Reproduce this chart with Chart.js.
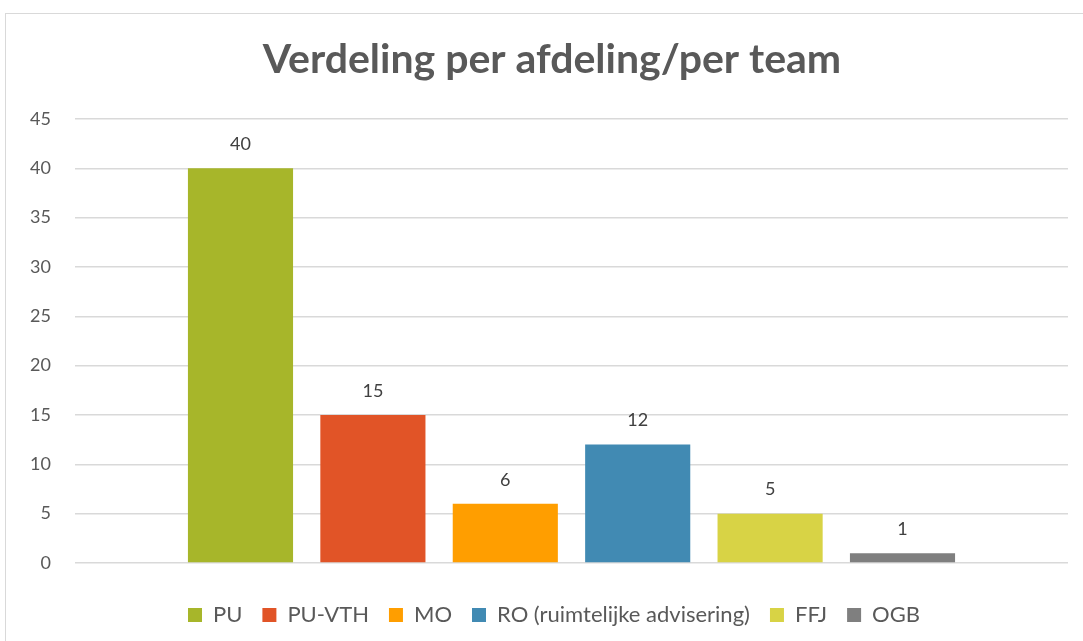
<!DOCTYPE html>
<html lang="nl">
<head>
    <meta charset="UTF-8">
    <title>Verdeling per afdeling/per team</title>
    <script src="https://cdn.jsdelivr.net/npm/chart.js"></script>
    <style>
        html, body { margin: 0; padding: 0; background: #fff; overflow: hidden; }
        .wrap { position: relative; width: 1083px; height: 641px; }
        .frame { position: absolute; left: 5px; top: 13px; width: 1200px; height: 800px; border: 1px solid #d9d9d9; box-sizing: border-box; pointer-events: none; }
        canvas { position: absolute; left: 0; top: 0; }
    </style>
</head>
<body>
    <div class="wrap">
        <canvas id="chart" width="1083" height="641"></canvas>
        <div class="frame"></div>
    </div>

    <script>
        // gegevens
        const titel = 'Verdeling per afdeling/per team';
        const afdelingen = ['PU', 'PU-VTH', 'MO', 'RO (ruimtelijke advisering)', 'FFJ', 'OGB'];
        const aantallen = [40, 15, 6, 12, 5, 1];
        const kleuren = ['#A7B62A', '#E15427', '#FF9E00', '#418AB3', '#D8D345', '#7F7F7F'];
        const yTicks = [0, 5, 10, 15, 20, 25, 30, 35, 40, 45];

        const fontFam = 'Lato, "Open Sans", sans-serif';

        // titel (iets rechts van het midden, zoals in het origineel) en waarden boven de staven
        const extraTekst = {
            id: 'extraTekst',
            afterLayout(chart) {
                // legenda staat in het origineel ook iets naar rechts
                chart.legend.left += 40;
            },
            afterDraw(chart) {
                const ctx = chart.ctx;
                ctx.save();
                ctx.font = 'bold 41px ' + fontFam;
                ctx.fillStyle = '#595959';
                ctx.textAlign = 'center';
                ctx.textBaseline = 'alphabetic';
                ctx.fillText(titel, 552, 73);
                ctx.restore();
            },
            afterDatasetsDraw(chart) {
                const ctx = chart.ctx;
                ctx.save();
                ctx.font = '18px ' + fontFam;
                ctx.fillStyle = '#404040';
                ctx.textAlign = 'center';
                ctx.textBaseline = 'middle';
                chart.data.datasets.forEach((ds, i) => {
                    const bar = chart.getDatasetMeta(i).data[0];
                    ctx.fillText(ds.data[0], bar.x, bar.y - 24);
                });
                ctx.restore();
            }
        };

        new Chart(document.getElementById('chart'), {
            type: 'bar',
            data: {
                labels: [''],
                datasets: afdelingen.map((naam, i) => ({
                    label: naam,
                    data: [aantallen[i]],
                    backgroundColor: kleuren[i],
                    categoryPercentage: 0.8,
                    barPercentage: 0.794
                }))
            },
            options: {
                responsive: false,
                animation: false,
                layout: { padding: { left: 0, right: 15, top: 119, bottom: 5 } },
                plugins: {
                    title: { display: false },
                    legend: {
                        position: 'bottom',
                        labels: {
                            boxWidth: 14,
                            boxHeight: 14,
                            color: '#595959',
                            padding: 20,
                            font: { family: fontFam, size: 22 }
                        }
                    },
                    tooltip: { enabled: false }
                },
                scales: {
                    x: {
                        afterFit(scale) { scale.height = scale.height + 13; },
                        grid: { display: false },
                        border: { display: false },
                        ticks: { display: false }
                    },
                    y: {
                        min: 0,
                        max: 45,
                        afterBuildTicks(scale) { scale.ticks = yTicks.map(v => ({ value: v })); },
                        afterFit(scale) { scale.width = 75; },
                        grid: { color: '#d9d9d9', lineWidth: 1.5, drawTicks: false },
                        border: { display: false },
                        ticks: { color: '#595959', padding: 24, font: { family: fontFam, size: 18 } }
                    }
                }
            },
            plugins: [extraTekst]
        });
    </script>
</body>
</html>
